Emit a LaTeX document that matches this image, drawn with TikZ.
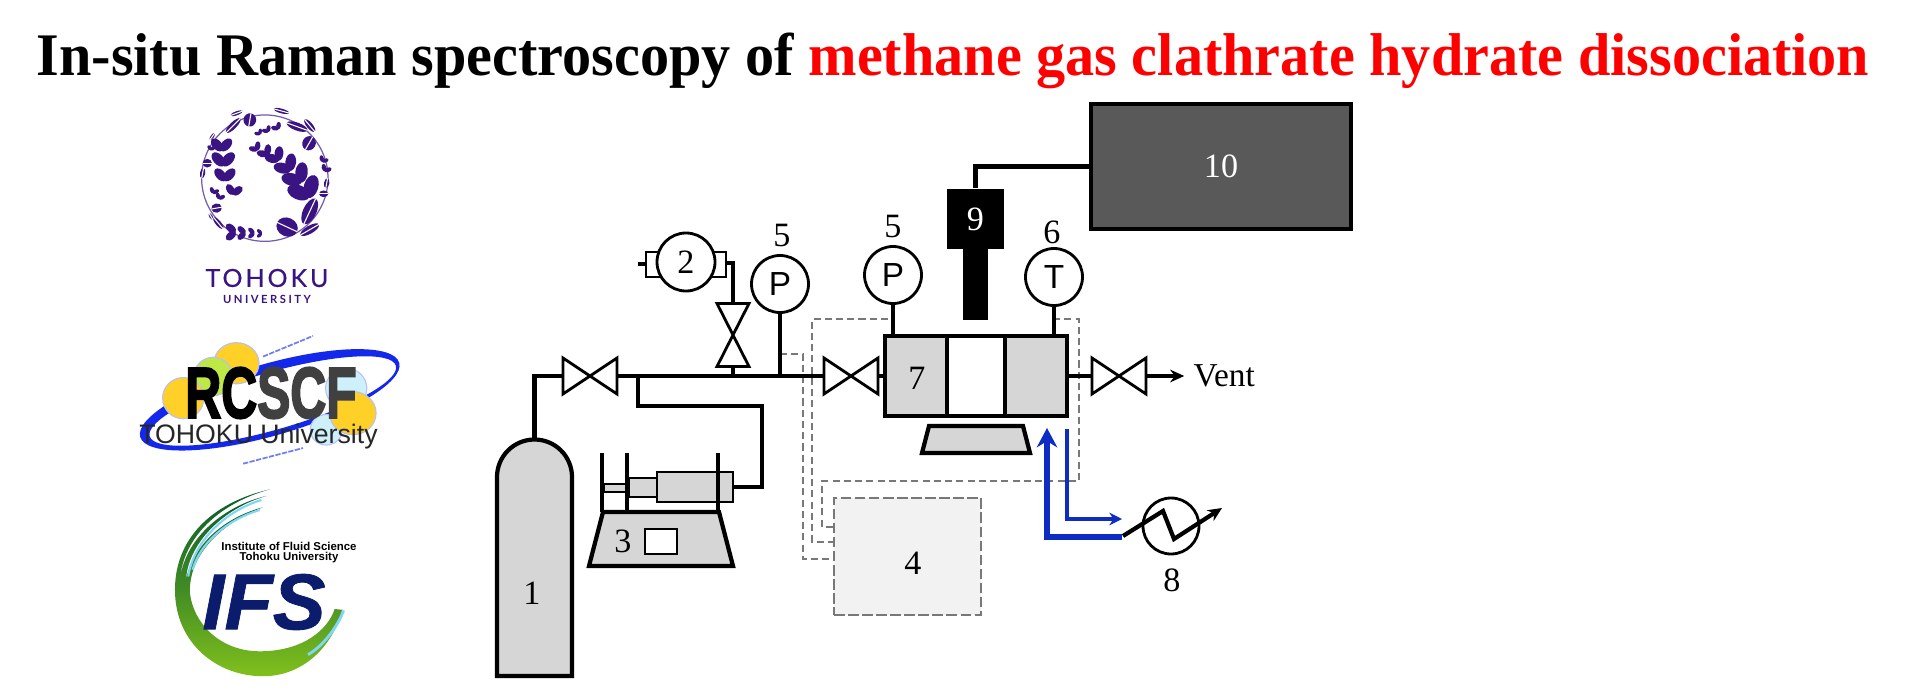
\documentclass[tikz,border=0pt]{standalone}
\usepackage{fontspec}
\setmainfont{Liberation Serif}
\setsansfont{Liberation Sans}
\newfontfamily\tohokufont[LetterSpace=12,FakeBold=.4]{Lato}
\newfontfamily\tohokusmall[LetterSpace=22]{Lato}
\newfontfamily\heavyfont[FakeBold=3]{Liberation Sans Bold}
\newfontfamily\ifsfont[FakeBold=1]{Liberation Sans Bold Italic}
\usepackage{graphicx}
\usetikzlibrary{positioning,arrows.meta,calc}
\definecolor{fillgrey}{RGB}{214,214,214}
\definecolor{dashgrey}{RGB}{120,120,120}
\definecolor{darkbox}{RGB}{89,89,89}
\definecolor{coolblue}{RGB}{12,44,196}
\definecolor{titlered}{RGB}{255,0,0}
\definecolor{logopurple}{RGB}{58,20,130}
\definecolor{orbitblue}{RGB}{20,40,235}
\definecolor{logoyellow}{RGB}{255,208,40}
\definecolor{logolime}{RGB}{190,232,70}
\definecolor{logosky}{RGB}{205,240,250}
\definecolor{ifsnavy}{RGB}{12,28,108}
\definecolor{ifsdark}{RGB}{8,90,44}
\definecolor{ifslime}{RGB}{128,192,28}
\tikzset{
  pipe/.style={line width=1.2pt,black},
  thinpipe/.style={line width=.8pt,black},
  gauge/.style={circle,draw,line width=.8pt,fill=white,minimum size=.57cm,inner sep=0pt,font=\sffamily\fontsize{9.5}{10}\selectfont},
  valvebox/.style={minimum width=.54cm,minimum height=.36cm,inner sep=0pt,outer sep=0pt},
  valvetall/.style={minimum width=.32cm,minimum height=.63cm,inner sep=0pt,outer sep=0pt},
  numlabel/.style={inner sep=0pt,font=\fontsize{9.7}{10}\selectfont},
  signal/.style={line width=.4pt,dashgrey,dash pattern=on 2pt off 1.2pt},
  coolant/.style={coolblue,line width=1.6pt},
}
\newcommand{\valvetie}[1]{\draw[thinpipe,fill=white,line join=miter] (#1.north west) -- (#1.south east) -- (#1.north east) -- (#1.south west) -- cycle;}
\newcommand{\valvestand}[1]{\draw[thinpipe,fill=white,line join=miter] (#1.north west) -- (#1.north east) -- (#1.south west) -- (#1.south east) -- cycle;}
% logo leaves: x, y, direction, size
\newcommand{\leafheart}[4]{%
  \fill[logopurple,shift={(#1,#2)},rotate=#3+42,scale=#4] (20,0) ellipse [x radius=23,y radius=14];
  \fill[logopurple,shift={(#1,#2)},rotate=#3-42,scale=#4] (20,0) ellipse [x radius=23,y radius=14];}
\newcommand{\leafbig}[5]{%
  \fill[logopurple,shift={(#1,#2)},rotate=#3] (0,0) ellipse [x radius=#4,y radius=#5];
  \draw[white,line width=.3pt,shift={(#1,#2)},rotate=#3] (-#4,0) -- (#4,0);}
\begin{document}
\begin{tikzpicture}
 \useasboundingbox (0,0) rectangle (19.05,6.95);
 \node[anchor=base west,inner sep=0pt,font=\bfseries\fontsize{17.2}{18}\selectfont] (title) at (.36,6.20) {\scalebox{.963}[1]{In-situ Raman spectroscopy of \textcolor{titlered}{methane gas clathrate hydrate dissociation}}};

 % Tohoku logo
 \begin{scope}[shift={(1.8,6.0)},x=.00333cm,y=-.00333cm]
  \draw[logopurple!70,line width=.35pt] (255,250) circle [radius=190];
  \foreach \px/\py/\pdir/\psize in {232/165/125/.6,262/180/125/.75,295/195/125/.95,330/225/125/1.15,362/260/125/1.35,385/305/115/1.55,240/118/125/.4,265/110/125/.45,295/102/125/.5,125/165/90/1,130/210/90/1.1,135/255/90/1,160/298/80/.8,100/295/70/.45,118/312/70/.45,165/412/180/.8,195/415/180/.65,222/415/180/.5,245/416/180/.4,428/200/60/.45,435/228/60/.5,95/165/90/.4}
   {\leafheart{\px}{\py}{\pdir}{\psize}}
  \leafbig{322}{397}{-25}{33}{28}
  \leafbig{210}{75}{80}{20}{19}
  \leafbig{388}{145}{60}{22}{20}
  \leafbig{110}{340}{10}{16}{14}
  \leafbig{390}{350}{65}{42}{20}
  \leafbig{390}{405}{30}{32}{12}
  \leafbig{352}{95}{-20}{33}{12}
  \leafbig{390}{92}{-50}{24}{9}
  \leafbig{160}{92}{45}{30}{10}
  \leafbig{170}{55}{20}{20}{6}
  \leafbig{305}{48}{-15}{24}{7}
  \leafbig{82}{205}{0}{14}{13}
  \leafbig{68}{235}{80}{16}{8}
  \leafbig{115}{385}{-50}{22}{8}
  \leafbig{93}{365}{-60}{11}{5}
  \leafbig{432}{297}{0}{14}{10}
  \leafbig{441}{265}{80}{15}{8}
  \leafbig{97}{125}{55}{13}{5}
 \end{scope}
 \node[logopurple,inner sep=0pt,font=\tohokufont\fontsize{7.1}{8}\selectfont] (tohoku) at (2.67,4.17) {TOHOKU};
 \node[logopurple,inner sep=0pt,font=\tohokusmall\bfseries\fontsize{3.2}{4}\selectfont] (university) at (2.67,3.96) {UNIVERSITY};

 % RCSCF logo
 \begin{scope}[shift={(1.3,3.75)},x=.00333cm,y=-.00333cm]
  \fill[orbitblue,even odd rule,rotate around={16:(420,240)}] (420,240) ellipse [x radius=405,y radius=108] (428,246) ellipse [x radius=385,y radius=86];
  \draw[orbitblue!60,line width=.5pt,dash pattern=on 1.5pt off .4pt] (400,110) -- (550,48);
  \draw[orbitblue!60,line width=.5pt,dash pattern=on 1.5pt off .4pt] (340,432) -- (520,385);
  \filldraw[logoyellow,draw=orbitblue!30,line width=.3pt] (320,130) ellipse [x radius=68,y radius=62];
  \filldraw[logolime,draw=orbitblue!30,line width=.3pt] (250,170) ellipse [x radius=58,y radius=58];
  \filldraw[logoyellow,draw=orbitblue!30,line width=.3pt] (160,235) ellipse [x radius=62,y radius=62];
  \filldraw[logosky,draw=orbitblue!30,line width=.3pt] (650,205) ellipse [x radius=62,y radius=60];
  \filldraw[logosky,draw=orbitblue!30,line width=.3pt] (590,330) ellipse [x radius=48,y radius=46];
  \filldraw[logoyellow,draw=orbitblue!30,line width=.3pt] (670,280) ellipse [x radius=70,y radius=65];
 \end{scope}
 \node[inner sep=0pt,font=\heavyfont\fontsize{20.5}{21}\selectfont] (rcscf) at (2.71,3.02) {\scalebox{.69}[1]{RC\textcolor{black!75}{SCF}}};
 \node[inner sep=0pt,text=black!85,font=\sffamily\fontsize{7.6}{8}\selectfont] (rcscfuni) at (2.585,2.58) {TOHOKU University};

 % IFS logo
 \begin{scope}[shift={(1.6,2.15)},x=.00333cm,y=-.00333cm]
  \shade[top color=ifsdark,bottom color=ifslime,middle color=ifsdark!55!ifslime] (330,28) .. controls (150,70) and (45,180) .. (45,330) .. controls (45,490) and (170,590) .. (310,590) .. controls (430,590) and (520,500) .. (548,390) -- (525,388) .. controls (505,450) and (430,515) .. (300,515) .. controls (180,515) and (100,430) .. (90,340) .. controls (85,230) and (180,130) .. (310,82) .. controls (200,110) and (100,190) .. (78,300) .. controls (85,190) and (190,85) .. (320,48) .. controls (200,75) and (75,170) .. (60,300) .. controls (70,170) and (180,70) .. (330,28) -- cycle;
  \draw[cyan!50,line width=.6pt] (305,60) .. controls (190,95) and (100,190) .. (85,290);
  \draw[cyan!50,line width=.6pt] (300,90) .. controls (200,120) and (120,190) .. (98,270);
  \draw[cyan!50,line width=.8pt] (552,392) .. controls (535,440) and (490,500) .. (445,525);
 \end{scope}
 \node[inner sep=0pt,font=\sffamily\bfseries\fontsize{3.25}{3.5}\selectfont] (ifsname) at (2.89,1.49) {Institute of Fluid Science};
 \node[inner sep=0pt,font=\sffamily\bfseries\fontsize{3.25}{3.5}\selectfont] (ifsuni) at (2.89,1.37) {Tohoku University};
 \node[inner sep=0pt,text=ifsnavy,font=\ifsfont\fontsize{22.5}{23}\selectfont] (ifs) at (2.64,.93) {IFS};

 % signal lines to box 4
 \node[draw=dashgrey,fill=black!5,line width=.65pt,dash pattern=on 3pt off 1pt,minimum width=1.47cm,minimum height=1.17cm,inner sep=0pt] (recorder) at (9.075,1.385) {};
 \node[numlabel] (num4) at (9.13,1.32) {4};
 \draw[signal] (7.80,3.41) -| (8.03,1.36) -- (recorder.west |- 8.03,1.36);
 \draw[signal] (8.88,3.76) -| (8.12,1.53) -- (recorder.west |- 8.12,1.53);
 \draw[signal] (10.53,3.76) -| (10.79,2.14) -| (8.22,1.68) -- (recorder.west |- 8.22,1.68);

 % gas supply
 \draw[pipe,fill=fillgrey] (4.97,.19) -- (4.97,2.18) arc (180:0:.375) -- (5.72,.19) -- cycle;
 \node[numlabel] (num1) at (5.32,1.02) {1};
 \coordinate (cylindertop) at (5.345,2.54);
 \node[valvebox] (valvea) at (5.90,3.19) {};
 \node[valvebox] (valveb) at (8.51,3.19) {};
 \node[valvetall] (valvec) at (7.33,3.60) {};
 \node[valvebox] (valved) at (11.19,3.19) {};
 \coordinate (tee) at (6.38,3.19);
 \node[draw,line width=.7pt,fill=fillgrey,minimum width=1.80cm,minimum height=.78cm,inner sep=0pt] (vessel) at (9.76,3.19) {};
 \node[draw,line width=.7pt,fill=white,minimum width=.56cm,minimum height=.78cm,inner sep=0pt] (window) at (9.76,3.19) {};
 \draw[pipe] (vessel.north west) rectangle (vessel.south east);
 \draw[pipe] (window.north west) -- (window.south west) (window.north east) -- (window.south east);
 \node[numlabel] (num7) at (9.17,3.17) {7};
 \draw[pipe] (cylindertop) |- (valvea.west);
 \draw[pipe] (valvea.east) -- (valveb.west);
 \draw[pipe] (valveb.east) -- (vessel.west);
 \draw[pipe] (vessel.east) -- (valved.west);
 \draw[pipe] (tee) |- (7.62,2.89) |- (6.95,2.08);
 \valvetie{valvea}
 \valvetie{valveb}
 \valvetie{valved}

 % syringe pump
 \draw[pipe,fill=fillgrey] (6.03,1.83) -- (7.19,1.83) -- (7.33,1.29) -- (5.89,1.29) -- cycle;
 \draw[thinpipe,fill=white,line width=.5pt] (6.45,1.41) rectangle (6.77,1.66);
 \node[numlabel] (num3) at (6.23,1.54) {3};
 \draw[thinpipe,fill=fillgrey,line width=.5pt] (6.04,2.03) rectangle (6.26,2.11);
 \draw[thinpipe,fill=fillgrey,line width=.5pt] (6.29,1.98) rectangle (6.57,2.17);
 \node[draw,line width=.6pt,fill=fillgrey,minimum width=.76cm,minimum height=.30cm,inner sep=0pt] (barrel) at (6.95,2.08) {};
 \draw[pipe] (6.02,2.42) -- (6.02,1.83);
 \draw[pipe] (6.27,2.42) -- (6.27,1.83);
 \draw[pipe] (7.18,2.42) -- (7.18,1.83);

 % vacuum pump and gauges
 \draw[thinpipe,fill=white] (6.46,4.18) rectangle (7.26,4.43);
 \node[gauge,minimum size=.58cm,font=\fontsize{9.7}{10}\selectfont] (vacuum) at (6.86,4.33) {2};
 \coordinate (vacuumend) at (6.38,4.31);
 \draw[pipe] (vacuumend) -- (6.46,4.31);
 \draw[pipe] (7.26,4.32) -| (valvec.north);
 \draw[pipe] (valvec.south) -- (valvec |- tee);
 \valvestand{valvec}
 \node[gauge] (gaugeA) at (7.80,4.11) {P};
 \node[gauge] (gaugeB) at (8.93,4.20) {P};
 \node[gauge] (gaugeC) at (10.54,4.18) {T};
 \draw[pipe] (gaugeA) -- (gaugeA |- tee);
 \draw[pipe] (gaugeB) -- (gaugeB |- vessel.north);
 \draw[pipe] (gaugeC) -- (gaugeC |- vessel.north);
 \node[numlabel] (num5a) at (7.82,4.59) {5};
 \node[numlabel] (num5b) at (8.93,4.68) {5};
 \node[numlabel] (num6) at (10.52,4.63) {6};

 % vent
 \node[inner sep=0pt,anchor=west,font=\fontsize{9.5}{10}\selectfont] (vent) at (11.93,3.19) {Vent};
 \draw[pipe,-{Stealth[length=4pt,width=3.6pt]},shorten >=2.5pt] (valved.east) -- (vent.west);

 % probe, spectrometer, stage
 \node[fill=black,minimum width=.25cm,minimum height=.71cm,inner sep=0pt] (probe) at (9.755,4.105) {};
 \node[fill=black,text=white,minimum width=.57cm,minimum height=.60cm,inner sep=0pt,font=\fontsize{9.7}{10}\selectfont] (head) at (9.755,4.76) {9};
 \node[draw,fill=darkbox,text=white,line width=1.1pt,minimum width=2.60cm,minimum height=1.25cm,inner sep=0pt,font=\fontsize{9.7}{10}\selectfont] (spectrometer) at (12.21,5.285) {10};
 \draw[pipe] (spectrometer.west) -| (head.north);
 \draw[pipe,fill=fillgrey] (9.29,2.69) -- (10.23,2.69) -- (10.30,2.42) -- (9.22,2.42) -- cycle;

 % cooling loop
 \node[circle,draw,line width=.8pt,minimum size=.56cm,inner sep=0pt] (cooler) at (11.71,1.69) {};
 \node[numlabel] (num8) at (11.72,1.15) {8};
 \coordinate (coolerin) at (11.22,1.58);
 \coordinate (coolerout) at (11.22,1.76);
 \coordinate (vesselin) at (10.47,2.67);
 \coordinate (vesselout) at (10.67,2.66);
 \draw[coolant,-{Stealth[length=5.5pt,width=5.8pt]}] (coolerin) -| (vesselin);
 \draw[coolant,line width=1.1pt,-{Stealth[length=3.6pt,width=3.6pt]}] (vesselout) |- (coolerout);
 \draw[pipe,-{Stealth[length=4pt,width=3.6pt]}] (11.23,1.59) -- (11.63,1.84) -- (11.74,1.56) -- (12.22,1.87);
\end{tikzpicture}
\end{document}
